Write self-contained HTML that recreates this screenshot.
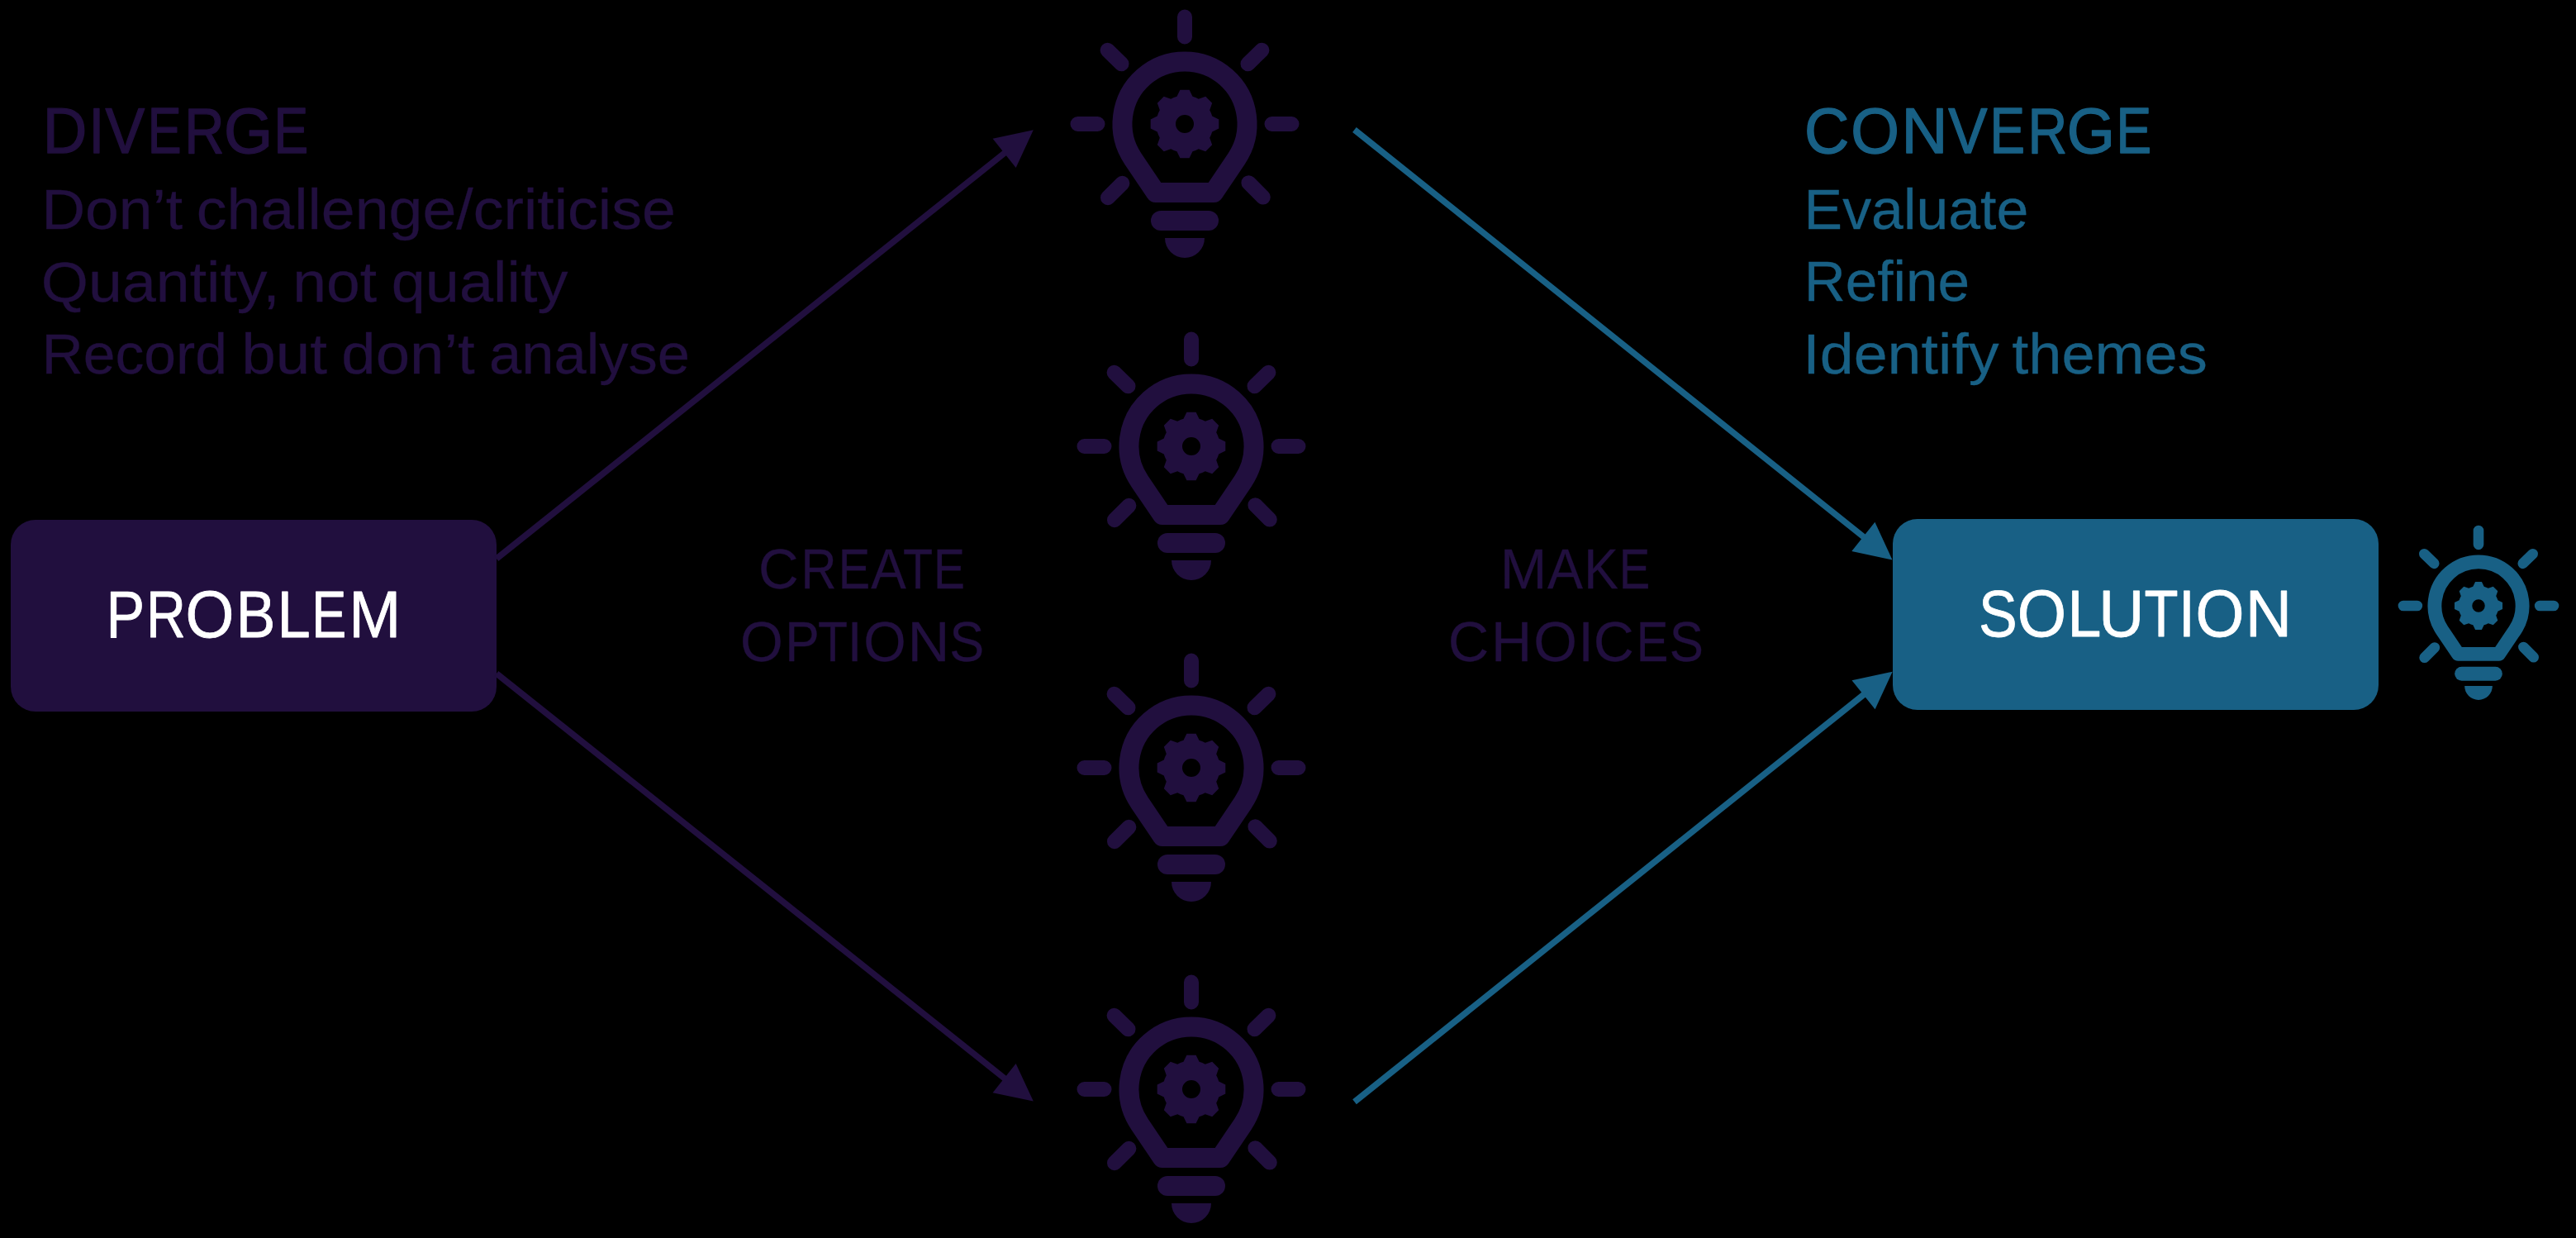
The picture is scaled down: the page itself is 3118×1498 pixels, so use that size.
<!DOCTYPE html>
<html><head><meta charset="utf-8"><title>Diverge Converge</title>
<style>
html,body{margin:0;padding:0;background:#000;width:3118px;height:1498px;overflow:hidden}
text{font-family:"Liberation Sans",sans-serif}
</style></head><body>
<svg width="3118" height="1498" viewBox="0 0 3118 1498" style="display:block"><rect x="13" y="629" width="588" height="232" rx="30" fill="#210F3E"/>
<rect x="2291" y="628" width="588" height="231" rx="30" fill="#186085"/>
<path d="M601.00 676.00L1217.19 184.13" stroke="#210F3E" stroke-width="7.50"/><path d="M1250.80 157.30L1229.67 202.96L1201.59 167.79Z" fill="#210F3E"/>
<path d="M601.00 815.00L1217.17 1305.81" stroke="#210F3E" stroke-width="7.50"/><path d="M1250.80 1332.60L1201.58 1322.16L1229.62 1286.96Z" fill="#210F3E"/>
<path d="M1639.40 157.00L2256.91 650.65" stroke="#186085" stroke-width="7.50"/><path d="M2290.50 677.50L2241.30 666.98L2269.40 631.83Z" fill="#186085"/>
<path d="M1639.50 1333.20L2257.11 839.55" stroke="#186085" stroke-width="7.50"/><path d="M2290.70 812.70L2269.60 858.37L2241.50 823.22Z" fill="#186085"/>
<g transform="translate(1434.00 150.00) scale(1.0000)"><path d="M0.00 -105.50L0.00 -129.50M-105.50 0.00L-129.50 0.00M105.50 0.00L129.50 0.00M-76.50 -72.80L-93.40 -89.30M76.50 -72.80L93.40 -89.30M-75.60 71.80L-93.00 89.20M77.40 71.20L94.80 88.60" stroke="#210F3E" stroke-width="18" stroke-linecap="round" fill="none"/><path d="M-35.08 83.00L-62.59 42.20A75.50 75.50 0 1 1 62.59 42.20L35.08 83.00Z" stroke="#210F3E" stroke-width="24" stroke-linejoin="round" fill="none"/><path d="M-29 117L29 117" stroke="#210F3E" stroke-width="24" stroke-linecap="round"/><path d="M-24 138A24 24 0 0 0 24 138Z" fill="#210F3E"/><path d="M-9.50 -33.20L-5.60 -41.30L5.60 -41.30L9.50 -33.20A34.53 34.53 0 0 1 16.76 -30.19L25.24 -33.16L33.16 -25.24L30.19 -16.76A34.53 34.53 0 0 1 33.20 -9.50L41.30 -5.60L41.30 5.60L33.20 9.50A34.53 34.53 0 0 1 30.19 16.76L33.16 25.24L25.24 33.16L16.76 30.19A34.53 34.53 0 0 1 9.50 33.20L5.60 41.30L-5.60 41.30L-9.50 33.20A34.53 34.53 0 0 1 -16.76 30.19L-25.24 33.16L-33.16 25.24L-30.19 16.76A34.53 34.53 0 0 1 -33.20 9.50L-41.30 5.60L-41.30 -5.60L-33.20 -9.50A34.53 34.53 0 0 1 -30.19 -16.76L-33.16 -25.24L-25.24 -33.16L-16.76 -30.19A34.53 34.53 0 0 1 -9.50 -33.20ZM11.00 0A11.00 11.00 0 1 0 -11.00 0A11.00 11.00 0 1 0 11.00 0Z" fill="#210F3E" fill-rule="evenodd"/></g>
<g transform="translate(1442.00 540.00) scale(1.0000)"><path d="M0.00 -105.50L0.00 -129.50M-105.50 0.00L-129.50 0.00M105.50 0.00L129.50 0.00M-76.50 -72.80L-93.40 -89.30M76.50 -72.80L93.40 -89.30M-75.60 71.80L-93.00 89.20M77.40 71.20L94.80 88.60" stroke="#210F3E" stroke-width="18" stroke-linecap="round" fill="none"/><path d="M-35.08 83.00L-62.59 42.20A75.50 75.50 0 1 1 62.59 42.20L35.08 83.00Z" stroke="#210F3E" stroke-width="24" stroke-linejoin="round" fill="none"/><path d="M-29 117L29 117" stroke="#210F3E" stroke-width="24" stroke-linecap="round"/><path d="M-24 138A24 24 0 0 0 24 138Z" fill="#210F3E"/><path d="M-9.50 -33.20L-5.60 -41.30L5.60 -41.30L9.50 -33.20A34.53 34.53 0 0 1 16.76 -30.19L25.24 -33.16L33.16 -25.24L30.19 -16.76A34.53 34.53 0 0 1 33.20 -9.50L41.30 -5.60L41.30 5.60L33.20 9.50A34.53 34.53 0 0 1 30.19 16.76L33.16 25.24L25.24 33.16L16.76 30.19A34.53 34.53 0 0 1 9.50 33.20L5.60 41.30L-5.60 41.30L-9.50 33.20A34.53 34.53 0 0 1 -16.76 30.19L-25.24 33.16L-33.16 25.24L-30.19 16.76A34.53 34.53 0 0 1 -33.20 9.50L-41.30 5.60L-41.30 -5.60L-33.20 -9.50A34.53 34.53 0 0 1 -30.19 -16.76L-33.16 -25.24L-25.24 -33.16L-16.76 -30.19A34.53 34.53 0 0 1 -9.50 -33.20ZM11.00 0A11.00 11.00 0 1 0 -11.00 0A11.00 11.00 0 1 0 11.00 0Z" fill="#210F3E" fill-rule="evenodd"/></g>
<g transform="translate(1442.00 929.00) scale(1.0000)"><path d="M0.00 -105.50L0.00 -129.50M-105.50 0.00L-129.50 0.00M105.50 0.00L129.50 0.00M-76.50 -72.80L-93.40 -89.30M76.50 -72.80L93.40 -89.30M-75.60 71.80L-93.00 89.20M77.40 71.20L94.80 88.60" stroke="#210F3E" stroke-width="18" stroke-linecap="round" fill="none"/><path d="M-35.08 83.00L-62.59 42.20A75.50 75.50 0 1 1 62.59 42.20L35.08 83.00Z" stroke="#210F3E" stroke-width="24" stroke-linejoin="round" fill="none"/><path d="M-29 117L29 117" stroke="#210F3E" stroke-width="24" stroke-linecap="round"/><path d="M-24 138A24 24 0 0 0 24 138Z" fill="#210F3E"/><path d="M-9.50 -33.20L-5.60 -41.30L5.60 -41.30L9.50 -33.20A34.53 34.53 0 0 1 16.76 -30.19L25.24 -33.16L33.16 -25.24L30.19 -16.76A34.53 34.53 0 0 1 33.20 -9.50L41.30 -5.60L41.30 5.60L33.20 9.50A34.53 34.53 0 0 1 30.19 16.76L33.16 25.24L25.24 33.16L16.76 30.19A34.53 34.53 0 0 1 9.50 33.20L5.60 41.30L-5.60 41.30L-9.50 33.20A34.53 34.53 0 0 1 -16.76 30.19L-25.24 33.16L-33.16 25.24L-30.19 16.76A34.53 34.53 0 0 1 -33.20 9.50L-41.30 5.60L-41.30 -5.60L-33.20 -9.50A34.53 34.53 0 0 1 -30.19 -16.76L-33.16 -25.24L-25.24 -33.16L-16.76 -30.19A34.53 34.53 0 0 1 -9.50 -33.20ZM11.00 0A11.00 11.00 0 1 0 -11.00 0A11.00 11.00 0 1 0 11.00 0Z" fill="#210F3E" fill-rule="evenodd"/></g>
<g transform="translate(1442.00 1318.00) scale(1.0000)"><path d="M0.00 -105.50L0.00 -129.50M-105.50 0.00L-129.50 0.00M105.50 0.00L129.50 0.00M-76.50 -72.80L-93.40 -89.30M76.50 -72.80L93.40 -89.30M-75.60 71.80L-93.00 89.20M77.40 71.20L94.80 88.60" stroke="#210F3E" stroke-width="18" stroke-linecap="round" fill="none"/><path d="M-35.08 83.00L-62.59 42.20A75.50 75.50 0 1 1 62.59 42.20L35.08 83.00Z" stroke="#210F3E" stroke-width="24" stroke-linejoin="round" fill="none"/><path d="M-29 117L29 117" stroke="#210F3E" stroke-width="24" stroke-linecap="round"/><path d="M-24 138A24 24 0 0 0 24 138Z" fill="#210F3E"/><path d="M-9.50 -33.20L-5.60 -41.30L5.60 -41.30L9.50 -33.20A34.53 34.53 0 0 1 16.76 -30.19L25.24 -33.16L33.16 -25.24L30.19 -16.76A34.53 34.53 0 0 1 33.20 -9.50L41.30 -5.60L41.30 5.60L33.20 9.50A34.53 34.53 0 0 1 30.19 16.76L33.16 25.24L25.24 33.16L16.76 30.19A34.53 34.53 0 0 1 9.50 33.20L5.60 41.30L-5.60 41.30L-9.50 33.20A34.53 34.53 0 0 1 -16.76 30.19L-25.24 33.16L-33.16 25.24L-30.19 16.76A34.53 34.53 0 0 1 -33.20 9.50L-41.30 5.60L-41.30 -5.60L-33.20 -9.50A34.53 34.53 0 0 1 -30.19 -16.76L-33.16 -25.24L-25.24 -33.16L-16.76 -30.19A34.53 34.53 0 0 1 -9.50 -33.20ZM11.00 0A11.00 11.00 0 1 0 -11.00 0A11.00 11.00 0 1 0 11.00 0Z" fill="#210F3E" fill-rule="evenodd"/></g>
<g transform="translate(3000.00 733.00) scale(0.7030)"><path d="M0.00 -105.50L0.00 -129.50M-105.50 0.00L-129.50 0.00M105.50 0.00L129.50 0.00M-76.50 -72.80L-93.40 -89.30M76.50 -72.80L93.40 -89.30M-75.60 71.80L-93.00 89.20M77.40 71.20L94.80 88.60" stroke="#186085" stroke-width="18" stroke-linecap="round" fill="none"/><path d="M-35.08 83.00L-62.59 42.20A75.50 75.50 0 1 1 62.59 42.20L35.08 83.00Z" stroke="#186085" stroke-width="24" stroke-linejoin="round" fill="none"/><path d="M-29 117L29 117" stroke="#186085" stroke-width="24" stroke-linecap="round"/><path d="M-24 138A24 24 0 0 0 24 138Z" fill="#186085"/><path d="M-9.50 -33.20L-5.60 -41.30L5.60 -41.30L9.50 -33.20A34.53 34.53 0 0 1 16.76 -30.19L25.24 -33.16L33.16 -25.24L30.19 -16.76A34.53 34.53 0 0 1 33.20 -9.50L41.30 -5.60L41.30 5.60L33.20 9.50A34.53 34.53 0 0 1 30.19 16.76L33.16 25.24L25.24 33.16L16.76 30.19A34.53 34.53 0 0 1 9.50 33.20L5.60 41.30L-5.60 41.30L-9.50 33.20A34.53 34.53 0 0 1 -16.76 30.19L-25.24 33.16L-33.16 25.24L-30.19 16.76A34.53 34.53 0 0 1 -33.20 9.50L-41.30 5.60L-41.30 -5.60L-33.20 -9.50A34.53 34.53 0 0 1 -30.19 -16.76L-33.16 -25.24L-25.24 -33.16L-16.76 -30.19A34.53 34.53 0 0 1 -9.50 -33.20ZM11.00 0A11.00 11.00 0 1 0 -11.00 0A11.00 11.00 0 1 0 11.00 0Z" fill="#186085" fill-rule="evenodd"/></g>
<text transform="translate(51.73 185.20) scale(0.9556 1)" font-size="77.67" fill="#210F3E" stroke="#210F3E" stroke-width="1.40" stroke-linejoin="round">D</text><text transform="translate(107.53 185.20) scale(0.8693 1)" font-size="77.67" fill="#210F3E" stroke="#210F3E" stroke-width="1.40" stroke-linejoin="round">I</text><text transform="translate(127.49 185.20) scale(0.9205 1)" font-size="77.67" fill="#210F3E" stroke="#210F3E" stroke-width="1.40" stroke-linejoin="round">V</text><text transform="translate(178.85 185.20) scale(0.7889 1)" font-size="77.67" fill="#210F3E" stroke="#210F3E" stroke-width="1.40" stroke-linejoin="round">E</text><text transform="translate(223.25 185.20) scale(0.8611 1)" font-size="77.67" fill="#210F3E" stroke="#210F3E" stroke-width="1.40" stroke-linejoin="round">R</text><text transform="translate(270.98 185.20) scale(0.9794 1)" font-size="77.67" fill="#210F3E" stroke="#210F3E" stroke-width="1.40" stroke-linejoin="round">G</text><text transform="translate(331.47 185.20) scale(0.8038 1)" font-size="77.67" fill="#210F3E" stroke="#210F3E" stroke-width="1.40" stroke-linejoin="round">E</text>
<text transform="translate(2183.92 184.90) scale(0.9678 1)" font-size="77.67" fill="#186085" stroke="#186085" stroke-width="1.40" stroke-linejoin="round">C</text><text transform="translate(2240.19 184.90) scale(0.9722 1)" font-size="77.67" fill="#186085" stroke="#186085" stroke-width="1.40" stroke-linejoin="round">O</text><text transform="translate(2301.40 184.90) scale(0.9980 1)" font-size="77.67" fill="#186085" stroke="#186085" stroke-width="1.40" stroke-linejoin="round">N</text><text transform="translate(2358.28 184.90) scale(0.9129 1)" font-size="77.67" fill="#186085" stroke="#186085" stroke-width="1.40" stroke-linejoin="round">V</text><text transform="translate(2408.47 184.90) scale(0.8209 1)" font-size="77.67" fill="#186085" stroke="#186085" stroke-width="1.40" stroke-linejoin="round">E</text><text transform="translate(2454.51 184.90) scale(0.8506 1)" font-size="77.67" fill="#186085" stroke="#186085" stroke-width="1.40" stroke-linejoin="round">R</text><text transform="translate(2501.74 184.90) scale(0.9622 1)" font-size="77.67" fill="#186085" stroke="#186085" stroke-width="1.40" stroke-linejoin="round">G</text><text transform="translate(2561.46 184.90) scale(0.8232 1)" font-size="77.67" fill="#186085" stroke="#186085" stroke-width="1.40" stroke-linejoin="round">E</text>
<text transform="translate(128.46 770.70) scale(0.8786 1)" font-size="79.56" fill="#FFFFFF" stroke="#FFFFFF" stroke-width="0.80" stroke-linejoin="round">P</text><text transform="translate(177.03 770.70) scale(0.8330 1)" font-size="79.56" fill="#FFFFFF" stroke="#FFFFFF" stroke-width="0.80" stroke-linejoin="round">R</text><text transform="translate(224.49 770.70) scale(0.9510 1)" font-size="79.56" fill="#FFFFFF" stroke="#FFFFFF" stroke-width="0.80" stroke-linejoin="round">O</text><text transform="translate(285.65 770.70) scale(0.8970 1)" font-size="79.56" fill="#FFFFFF" stroke="#FFFFFF" stroke-width="0.80" stroke-linejoin="round">B</text><text transform="translate(335.48 770.70) scale(0.9087 1)" font-size="79.56" fill="#FFFFFF" stroke="#FFFFFF" stroke-width="0.80" stroke-linejoin="round">L</text><text transform="translate(377.17 770.70) scale(0.7925 1)" font-size="79.56" fill="#FFFFFF" stroke="#FFFFFF" stroke-width="0.80" stroke-linejoin="round">E</text><text transform="translate(422.33 770.70) scale(0.9502 1)" font-size="79.56" fill="#FFFFFF" stroke="#FFFFFF" stroke-width="0.80" stroke-linejoin="round">M</text>
<text transform="translate(2395.00 769.80) scale(0.8792 1)" font-size="79.56" fill="#FFFFFF" stroke="#FFFFFF" stroke-width="0.80" stroke-linejoin="round">S</text><text transform="translate(2441.86 769.80) scale(0.9582 1)" font-size="79.56" fill="#FFFFFF" stroke="#FFFFFF" stroke-width="0.80" stroke-linejoin="round">O</text><text transform="translate(2502.50 769.80) scale(0.9225 1)" font-size="79.56" fill="#FFFFFF" stroke="#FFFFFF" stroke-width="0.80" stroke-linejoin="round">L</text><text transform="translate(2540.37 769.80) scale(0.9579 1)" font-size="79.56" fill="#FFFFFF" stroke="#FFFFFF" stroke-width="0.80" stroke-linejoin="round">U</text><text transform="translate(2595.53 769.80) scale(0.8444 1)" font-size="79.56" fill="#FFFFFF" stroke="#FFFFFF" stroke-width="0.80" stroke-linejoin="round">T</text><text transform="translate(2636.74 769.80) scale(0.9115 1)" font-size="79.56" fill="#FFFFFF" stroke="#FFFFFF" stroke-width="0.80" stroke-linejoin="round">I</text><text transform="translate(2657.48 769.80) scale(0.9528 1)" font-size="79.56" fill="#FFFFFF" stroke="#FFFFFF" stroke-width="0.80" stroke-linejoin="round">O</text><text transform="translate(2717.75 769.80) scale(0.9812 1)" font-size="79.56" fill="#FFFFFF" stroke="#FFFFFF" stroke-width="0.80" stroke-linejoin="round">N</text>
<text transform="translate(917.98 711.55) scale(0.9750 1)" font-size="69.09" fill="#210F3E" stroke="#210F3E" stroke-width="0.30" stroke-linejoin="round">C</text><text transform="translate(969.56 711.55) scale(0.8621 1)" font-size="69.09" fill="#210F3E" stroke="#210F3E" stroke-width="0.30" stroke-linejoin="round">R</text><text transform="translate(1014.71 711.55) scale(0.8352 1)" font-size="69.09" fill="#210F3E" stroke="#210F3E" stroke-width="0.30" stroke-linejoin="round">E</text><text transform="translate(1054.18 711.55) scale(0.9225 1)" font-size="69.09" fill="#210F3E" stroke="#210F3E" stroke-width="0.30" stroke-linejoin="round">A</text><text transform="translate(1093.00 711.55) scale(0.8555 1)" font-size="69.09" fill="#210F3E" stroke="#210F3E" stroke-width="0.30" stroke-linejoin="round">T</text><text transform="translate(1130.07 711.55) scale(0.8247 1)" font-size="69.09" fill="#210F3E" stroke="#210F3E" stroke-width="0.30" stroke-linejoin="round">E</text>
<text transform="translate(895.88 799.85) scale(0.9651 1)" font-size="69.09" fill="#210F3E" stroke="#210F3E" stroke-width="0.30" stroke-linejoin="round">O</text><text transform="translate(950.35 799.85) scale(0.9017 1)" font-size="69.09" fill="#210F3E" stroke="#210F3E" stroke-width="0.30" stroke-linejoin="round">P</text><text transform="translate(990.10 799.85) scale(0.8530 1)" font-size="69.09" fill="#210F3E" stroke="#210F3E" stroke-width="0.30" stroke-linejoin="round">T</text><text transform="translate(1025.69 799.85) scale(0.9238 1)" font-size="69.09" fill="#210F3E" stroke="#210F3E" stroke-width="0.30" stroke-linejoin="round">I</text><text transform="translate(1045.30 799.85) scale(0.9588 1)" font-size="69.09" fill="#210F3E" stroke="#210F3E" stroke-width="0.30" stroke-linejoin="round">O</text><text transform="translate(1098.51 799.85) scale(1.0214 1)" font-size="69.09" fill="#210F3E" stroke="#210F3E" stroke-width="0.30" stroke-linejoin="round">N</text><text transform="translate(1149.31 799.85) scale(0.9104 1)" font-size="69.09" fill="#210F3E" stroke="#210F3E" stroke-width="0.30" stroke-linejoin="round">S</text>
<text transform="translate(1815.71 711.55) scale(0.9837 1)" font-size="69.09" fill="#210F3E" stroke="#210F3E" stroke-width="0.30" stroke-linejoin="round">M</text><text transform="translate(1873.08 711.55) scale(0.9311 1)" font-size="69.09" fill="#210F3E" stroke="#210F3E" stroke-width="0.30" stroke-linejoin="round">A</text><text transform="translate(1917.25 711.55) scale(0.9019 1)" font-size="69.09" fill="#210F3E" stroke="#210F3E" stroke-width="0.30" stroke-linejoin="round">K</text><text transform="translate(1959.72 711.55) scale(0.8141 1)" font-size="69.09" fill="#210F3E" stroke="#210F3E" stroke-width="0.30" stroke-linejoin="round">E</text>
<text transform="translate(1752.73 799.85) scale(0.9909 1)" font-size="69.09" fill="#210F3E" stroke="#210F3E" stroke-width="0.30" stroke-linejoin="round">C</text><text transform="translate(1804.90 799.85) scale(0.9856 1)" font-size="69.09" fill="#210F3E" stroke="#210F3E" stroke-width="0.30" stroke-linejoin="round">H</text><text transform="translate(1856.23 799.85) scale(0.9799 1)" font-size="69.09" fill="#210F3E" stroke="#210F3E" stroke-width="0.30" stroke-linejoin="round">O</text><text transform="translate(1910.52 799.85) scale(0.9522 1)" font-size="69.09" fill="#210F3E" stroke="#210F3E" stroke-width="0.30" stroke-linejoin="round">I</text><text transform="translate(1928.76 799.85) scale(0.9818 1)" font-size="69.09" fill="#210F3E" stroke="#210F3E" stroke-width="0.30" stroke-linejoin="round">C</text><text transform="translate(1980.69 799.85) scale(0.8378 1)" font-size="69.09" fill="#210F3E" stroke="#210F3E" stroke-width="0.30" stroke-linejoin="round">E</text><text transform="translate(2020.66 799.85) scale(0.8930 1)" font-size="69.09" fill="#210F3E" stroke="#210F3E" stroke-width="0.30" stroke-linejoin="round">S</text>
<text transform="translate(50.20 276.65) scale(1.0605 1)" font-size="69.09" fill="#210F3E" stroke="#210F3E" stroke-width="0.30" stroke-linejoin="round">Don’t</text><text transform="translate(237.64 276.65) scale(1.0639 1)" font-size="69.09" fill="#210F3E" stroke="#210F3E" stroke-width="0.30" stroke-linejoin="round">challenge/criticise</text>
<text transform="translate(49.87 365.05) scale(1.0639 1)" font-size="69.09" fill="#210F3E" stroke="#210F3E" stroke-width="0.30" stroke-linejoin="round">Quantity,</text><text transform="translate(354.30 365.05) scale(1.0590 1)" font-size="69.09" fill="#210F3E" stroke="#210F3E" stroke-width="0.30" stroke-linejoin="round">not</text><text transform="translate(473.70 365.05) scale(1.0704 1)" font-size="69.09" fill="#210F3E" stroke="#210F3E" stroke-width="0.30" stroke-linejoin="round">quality</text>
<text transform="translate(50.48 452.45) scale(1.0080 1)" font-size="69.09" fill="#210F3E" stroke="#210F3E" stroke-width="0.30" stroke-linejoin="round">Record</text><text transform="translate(292.21 452.45) scale(1.0798 1)" font-size="69.09" fill="#210F3E" stroke="#210F3E" stroke-width="0.30" stroke-linejoin="round">but</text><text transform="translate(413.28 452.45) scale(1.0773 1)" font-size="69.09" fill="#210F3E" stroke="#210F3E" stroke-width="0.30" stroke-linejoin="round">don’t</text><text transform="translate(591.95 452.45) scale(1.0213 1)" font-size="69.09" fill="#210F3E" stroke="#210F3E" stroke-width="0.30" stroke-linejoin="round">analyse</text>
<text transform="translate(2183.62 276.65) scale(1.0102 1)" font-size="69.09" fill="#186085" stroke="#186085" stroke-width="0.30" stroke-linejoin="round">Evaluate</text>
<text transform="translate(2183.65 364.45) scale(1.0033 1)" font-size="69.09" fill="#186085" stroke="#186085" stroke-width="0.30" stroke-linejoin="round">Refine</text>
<text transform="translate(2182.23 452.05) scale(1.0659 1)" font-size="69.09" fill="#186085" stroke="#186085" stroke-width="0.30" stroke-linejoin="round">Identify</text><text transform="translate(2435.27 452.05) scale(1.0440 1)" font-size="69.09" fill="#186085" stroke="#186085" stroke-width="0.30" stroke-linejoin="round">themes</text></svg>
</body></html>
